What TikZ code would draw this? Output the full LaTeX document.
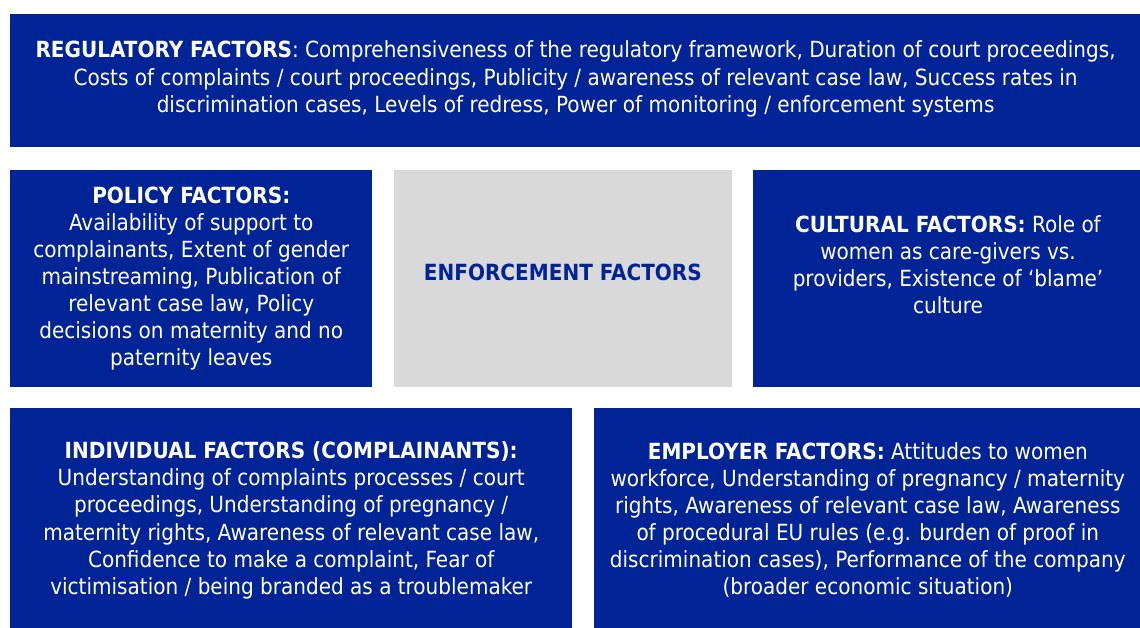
\documentclass[tikz,border=0pt]{standalone}
\usepackage{fontspec}
\setmainfont{DejaVu Sans Condensed}
\usepackage{tikz}
\usetikzlibrary{positioning}

\definecolor{factorblue}{RGB}{0,35,149}
\definecolor{factorgrey}{RGB}{217,217,217}

\begin{document}
\begin{tikzpicture}[
factor/.style={fill=factorblue, text=white, align=center, inner sep=0pt,
  font=\fontsize{16.7}{20.3}\selectfont},
core/.style={fill=factorgrey, text=factorblue, align=center, inner sep=0pt,
  font=\fontsize{16.7}{20.3}\selectfont},
]

\useasboundingbox (0,0) rectangle (855pt,-471pt);

\node[factor, minimum width=848pt, minimum height=99.75pt, anchor=north west] (reg) at (7.5pt,-10.5pt)
  {\textbf{REGULATORY FACTORS}: Comprehensiveness of the regulatory framework, Duration of court proceedings,\\
   Costs of complaints / court proceedings, Publicity / awareness of relevant case law, Success rates in\\
   discrimination cases, Levels of redress, Power of monitoring / enforcement systems\\[-14pt]};

\node[factor, minimum width=271.5pt, minimum height=162.75pt] (pol) [below=16.5pt of reg.south west, anchor=north west]
  {\textbf{POLICY FACTORS:}\\ Availability of support to\\ complainants, Extent of gender\\
   mainstreaming, Publication of\\ relevant case law, Policy\\ decisions on maternity and no\\ paternity leaves};
\node[core, minimum width=253.5pt, minimum height=162.75pt] (enf) [right=15.75pt of pol]
  {\textbf{ENFORCEMENT FACTORS}\\[-11pt]};
\node[factor, minimum width=292pt, minimum height=162.75pt] (cul) [right=15.75pt of enf]
  {\textbf{CULTURAL FACTORS:} Role of\\ women as care-givers vs.\\ providers, Existence of ‘blame’\\ culture\\ \mbox{}};

\node[factor, minimum width=421.5pt, minimum height=168pt] (ind) [below=15.75pt of pol.south west, anchor=north west]
  {\textbf{INDIVIDUAL FACTORS (COMPLAINANTS):}\\ Understanding of complaints processes / court\\
   proceedings, Understanding of pregnancy /\\ maternity rights, Awareness of relevant case law,\\
   Confidence to make a complaint, Fear of\\ victimisation / being branded as a troublemaker};
\node[factor, minimum width=411pt, minimum height=168pt] (emp) [right=15.75pt of ind]
  {\textbf{EMPLOYER FACTORS:} Attitudes to women\\ workforce, Understanding of pregnancy / maternity\\
   rights, Awareness of relevant case law, Awareness\\ of procedural EU rules (e.g. burden of proof in\\
   discrimination cases), Performance of the company\\ (broader economic situation)};

\end{tikzpicture}
\end{document}
